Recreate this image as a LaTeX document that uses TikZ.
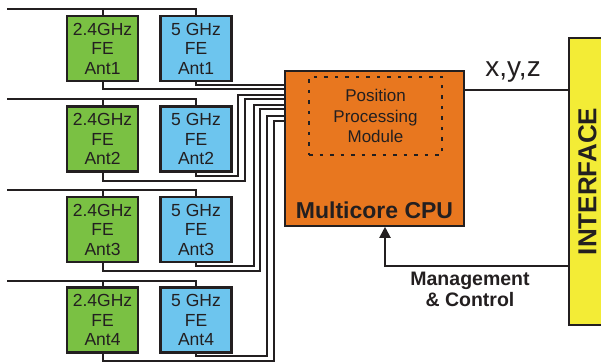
\documentclass[tikz,border=0pt]{standalone}
\usepackage{fontspec}
\setmainfont{Liberation Sans}
\usetikzlibrary{arrows.meta, positioning}
\definecolor{rfGreen}{HTML}{7AC143}
\definecolor{rfBlue}{HTML}{6DC5EE}
\definecolor{rfOrange}{HTML}{E8771F}
\definecolor{rfYellow}{HTML}{F3EC36}
\definecolor{rfInk}{HTML}{231F20}
\tikzset{
  wire/.style     = {rfInk, line width=2pt},
  ctrl/.style     = {-{Triangle[length=11pt, width=11pt]}, rfInk, line width=2pt},
  febox/.style    = {draw=rfInk, line width=2.4pt, minimum width=71pt, minimum height=65pt,
                     inner sep=0pt, align=center, text=rfInk,
                     font=\fontsize{17.5}{19.5}\selectfont},
  fe24/.style     = {febox, fill=rfGreen},
  fe5/.style      = {febox, fill=rfBlue},
  cpubox/.style   = {draw=rfInk, line width=1.6pt, fill=rfOrange,
                     minimum width=179pt, minimum height=155pt},
  modbox/.style   = {draw=rfInk, line width=1.8pt, dash pattern=on 3.5pt off 7pt,
                     minimum width=133pt, minimum height=78pt, align=center, text=rfInk,
                     font=\fontsize{17}{20.5}\selectfont},
  ifbox/.style    = {draw=rfInk, line width=1.6pt, fill=rfYellow,
                     minimum width=37pt, minimum height=287pt},
  biglbl/.style   = {font=\fontsize{23}{26}\selectfont\bfseries, text=rfInk},
  xyzlbl/.style   = {font=\fontsize{28}{32}\selectfont, text=rfInk},
  mclbl/.style    = {font=\fontsize{19.5}{21}\selectfont\bfseries, text=rfInk, align=center},
  iflbl/.style    = {font=\fontsize{26}{30}\selectfont\bfseries, text=rfInk},
}

\begin{document}
\begin{tikzpicture}[x=1pt, y=-1pt]
\useasboundingbox (0,0) rectangle (601,363);
% front ends, one row per antenna
\node[fe24] (g1) at (102.5,48.5) {2.4GHz\\FE\\Ant1};
\node[fe5]  (b1) at (196,48.5)   {5 GHz\\FE\\Ant1};
\node[fe24] (g2) at (102.5,139)  {2.4GHz\\FE\\Ant2};
\node[fe5]  (b2) at (196,139)    {5 GHz\\FE\\Ant2};
\node[fe24] (g3) at (102.5,229.5) {2.4GHz\\FE\\Ant3};
\node[fe5]  (b3) at (196,229.5)  {5 GHz\\FE\\Ant3};
\node[fe24] (g4) at (102.5,320)  {2.4GHz\\FE\\Ant4};
\node[fe5]  (b4) at (196,320)    {5 GHz\\FE\\Ant4};
% processor and interface
\node[cpubox] (cpu) at (374.5,148.5) {};
\node[modbox] (ppm) at (375.5,116) {Position\\Processing\\Module};
\node[biglbl] (cpulbl) at (374.5,210) {Multicore CPU};
\node[ifbox] (iface) at (587.5,181.5) {};
\node[iflbl, rotate=90] (iflbl) at (iface.center) {INTERFACE};
% antenna feeds
\draw[wire] (7,9) -| (b1.north);       \draw[wire] (g1.north) -- (g1.north |- 7,9);
\draw[wire] (7,99.5) -| (b2.north);    \draw[wire] (g2.north) -- (g2.north |- 7,99.5);
\draw[wire] (7,190) -| (b3.north);     \draw[wire] (g3.north) -- (g3.north |- 7,190);
\draw[wire] (7,280.5) -| (b4.north);   \draw[wire] (g4.north) -- (g4.north |- 7,280.5);
% bundle into the CPU
\draw[wire] (b1.south) |- (cpu.west |- 0,85);
\draw[wire] (g1.south) |- (cpu.west |- 0,89);
\draw[wire] (b2.south) |- (238,176) |- (cpu.west |- 0,95);
\draw[wire] (g2.south) |- (245,181) |- (cpu.west |- 0,99);
\draw[wire] (b3.south) |- (254,266) |- (cpu.west |- 0,105);
\draw[wire] (g3.south) |- (260,271) |- (cpu.west |- 0,109);
\draw[wire] (b4.south) |- (267,356) |- (cpu.west |- 0,116);
\draw[wire] (g4.south) |- (274,361) |- (cpu.west |- 0,121);
% outputs and control
\draw[wire] (cpu.east |- 0,90) -- (iface.west |- 0,90);
\node[xyzlbl] (xyz) at (513,72) {x,y,z};
\draw[ctrl] (iface.west |- 0,266) -| (cpu.south -| 385,0);
\node[mclbl] (mctl) at (470,289.5) {Management\\\& Control};
\end{tikzpicture}
\end{document}
